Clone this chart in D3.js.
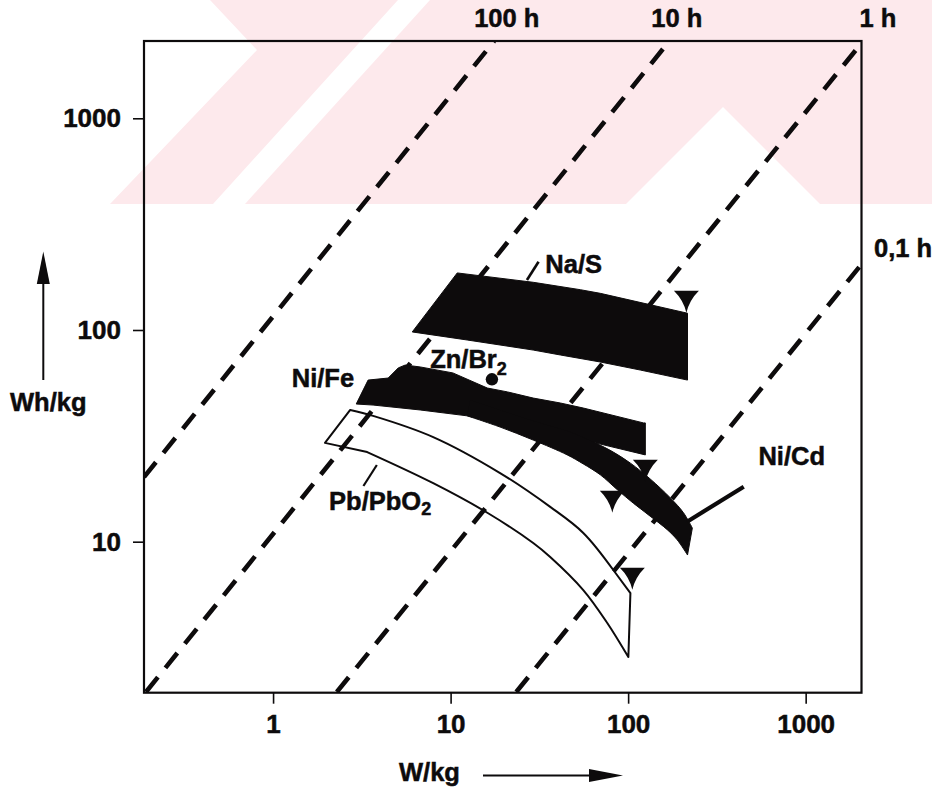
<!DOCTYPE html>
<html>
<head>
<meta charset="utf-8">
<script src="https://cdn.jsdelivr.net/npm/d3@7"></script>
<style>
  html, body { margin: 0; padding: 0; background: #ffffff; }
  svg { display: block; font-family: "Liberation Sans", Arial, Helvetica, sans-serif; font-weight: bold; }
</style>
</head>
<body>
<svg id="chart" width="932" height="789"></svg>
<script>
// Ragone diagram: specific energy (Wh/kg) against specific power (W/kg)
// for several traction battery systems, with constant discharge-time lines.

// ---- axes ----
const xTicks = [1, 10, 100, 1000];
const xTickLabels = ["1", "10", "100", "1000"];
const yTicks = [10, 100, 1000];
const yTickLabels = ["10", "100", "1000"];
const xDomain = [0.1875, 2063];
const yDomain = [1.935, 2318];

// ---- constant discharge-time lines: end points [W/kg, Wh/kg] ----
const durationNames = ["100 h", "10 h", "1 h", "0,1 h"];
const line100h = [[0.1875, 20.2], [17.6, 2318]];
const line10h  = [[0.1924, 1.95], [170.7, 2318]];
const line1h   = [[2.286, 1.95], [2064, 2268]];
const line01h  = [[23.43, 1.95], [2090, 207.2]];

// ---- battery regions [W/kg, Wh/kg] ----
const naS = [
  [10.9, 186], [29.2, 168], [53.8, 155], [69.7, 149], [216, 120],
  [216, 58.0], [117, 64.7], [69.7, 70.6], [41.5, 76.2], [29.2, 80.4], [12.4, 89.7], [6.08, 97.9]
];
const niFe = [
  [2.94, 44.7], [3.43, 58.0], [4.45, 59.3], [5.07, 66.2], [5.55, 68.3], [6.74, 66.9],
  [10.3, 62.7], [16.1, 53.2], [20.9, 51.0], [29.2, 47.7], [41.5, 45.2], [55.9, 42.8], [122, 36.4],
  [125, 36.4], [125, 25.7],
  [65.3, 29.3], [41.5, 31.6], [19.0, 36.0], [12.4, 39.3], [6.74, 41.9], [3.66, 44.2]
];
// curved bands: upper edge left to right, lower edge right to left
const niCdTop = [
  [12.9, 46.7], [28.1, 37.6], [47.2, 33.0], [65.3, 29.3], [82.5, 26.5], [103, 23.5],
  [133, 19.8], [173, 16.1], [205, 13.7], [230, 11.6]
];
const niCdBottom = [
  [216, 8.65], [189, 10.2], [166, 11.4], [133, 13.2], [107, 15.2], [86.9, 17.6],
  [69.7, 20.7], [55.9, 23.3], [45.4, 25.7], [29.2, 30.2], [19.0, 34.8], [12.4, 39.3]
];
const pbTop = [
  [1.96, 29.3], [2.72, 41.9], [3.66, 39.3], [7.98, 31.2], [19.0, 21.1], [36.4, 14.6],
  [55.9, 11.0], [82.5, 7.35], [103, 5.72]
];
const pbBottom = [
  [100.3, 2.85], [76.3, 4.13], [55.9, 5.91], [36.4, 8.47], [29.2, 9.86], [16.1, 13.7],
  [7.98, 18.9], [3.39, 26.5], [1.96, 29.3]
];

// ---- single points ----
const znBr2 = [17.09, 58.5];
const markers = [[212.9, 141.6], [125.0, 22.53], [81.46, 16.09], [105.6, 6.96]];

// ---- label leaders [W/kg, Wh/kg] ----
const leaderNaS = [[26.92, 172.3], [31.30, 210.2]];
const leaderNiCd = [[214.8, 12.43], [447.9, 18.19]];
const leaderPb = [[3.228, 18.33], [3.842, 23.03]];

// ---- labels: text and anchor point [W/kg, Wh/kg] ----
const labelNaS = ["Na/S", [34.15, 185.9]];
const labelNiFe = ["Ni/Fe", [2.861, 53.8]];
const labelZnBr = ["Zn/Br", "2", [7.674, 66.15]];
const labelNiCd = ["Ni/Cd", [542, 23.03]];
const labelPb = ["Pb/PbO", "2", [2.069, 14.11]];
const xTitle = "W/kg";
const yTitle = "Wh/kg";

// ---------------------------------------------------------------
const svg = d3.select("#chart");
const ink = "#0d0b0c";
const fontSize = 25.5;

const x = d3.scaleLog().domain(xDomain).range([144, 861.5]);
const y = d3.scaleLog().domain(yDomain).range([692.7, 41]);
const px = d => [x(d[0]), y(d[1])];

// decorative pale band behind the upper part of the figure
const tint = "#fde9ec";
const backdrop = svg.append("g");
const bands = [
  [[110, 204], [257, 50], [210, 0], [398, 0], [213, 204]],
  [[245, 204], [430, 0], [932, 0], [932, 204]]
];
bands.forEach(p => backdrop.append("path").attr("d", "M" + p.join("L") + "Z").attr("fill", tint));
backdrop.append("path")
  .attr("d", "M" + [[723, 107], [820, 204], [626, 204]].join("L") + "Z")
  .attr("fill", "#ffffff");

// clip to the plotting frame
svg.append("defs").append("clipPath").attr("id", "frame")
  .append("rect")
  .attr("x", x.range()[0]).attr("y", y.range()[1])
  .attr("width", x.range()[1] - x.range()[0])
  .attr("height", y.range()[0] - y.range()[1]);

const plot = svg.append("g").attr("clip-path", "url(#frame)");
const line = d3.line().x(d => x(d[0])).y(d => y(d[1]));
const smooth = d3.line().x(d => x(d[0])).y(d => y(d[1])).curve(d3.curveCatmullRom.alpha(0.5));
const cont = pts => smooth(pts).replace(/^M/, "L");

// discharge-time lines
const durationLines = [line100h, line10h, line1h, line01h];
plot.selectAll("path.iso").data(durationLines).join("path")
  .attr("class", "iso")
  .attr("d", line)
  .attr("fill", "none")
  .attr("stroke", ink)
  .attr("stroke-width", 4.6)
  .attr("stroke-dasharray", "19,12");

// battery regions
const closed = d3.line().x(d => x(d[0])).y(d => y(d[1])).curve(d3.curveLinearClosed);
[naS, niFe].forEach(r => {
  plot.append("path").attr("d", closed(r)).attr("fill", ink).attr("stroke", ink).attr("stroke-width", 1);
});
plot.append("path")
  .attr("d", smooth(niCdTop) + cont(niCdBottom) + "Z")
  .attr("fill", ink).attr("stroke", ink).attr("stroke-width", 1);

// Pb/PbO2: open outline, curved upper and lower edges
const pbPath = "M" + px(pbTop[0]) + cont(pbTop.slice(1, 8)) + "L" + px(pbTop[8]) +
  "L" + px(pbBottom[0]) + cont(pbBottom.slice(0, 8)) + "L" + px(pbBottom[8]) + "Z";
plot.append("path").attr("d", pbPath)
  .attr("fill", "none").attr("stroke", ink).attr("stroke-width", 2).attr("stroke-linejoin", "round");

// end-of-range markers (down-pointing triangles)
plot.selectAll("path.mk").data(markers).join("path")
  .attr("class", "mk")
  .attr("d", d => {
    const [cx, cy] = px(d);
    return `M${cx - 12.5},${cy - 7.3} L${cx + 12.5},${cy - 7.3} Q${cx + 3},${cy + 2} ${cx},${cy + 14.7} Q${cx - 3},${cy + 2} ${cx - 12.5},${cy - 7.3} Z`;
  })
  .attr("fill", ink);

// Zn/Br2 point
plot.append("circle").attr("cx", x(znBr2[0])).attr("cy", y(znBr2[1])).attr("r", 6.2).attr("fill", ink);

// label leaders
[[leaderNaS, 2.6], [leaderNiCd, 4.2], [leaderPb, 2.2]].forEach(([l, w]) => {
  plot.append("path").attr("d", line(l)).attr("stroke", ink).attr("stroke-width", w).attr("fill", "none");
});

// text helper: heavy bold face
const txt = (sel, anchor) => sel.attr("font-size", fontSize).attr("fill", ink)
  .attr("stroke", ink).attr("stroke-width", 0.5)
  .attr("text-anchor", anchor || "start");

// region labels
txt(svg.append("text").attr("x", x(labelNaS[1][0])).attr("y", y(labelNaS[1][1])).text(labelNaS[0]));
txt(svg.append("text").attr("x", x(labelNiFe[1][0])).attr("y", y(labelNiFe[1][1])).text(labelNiFe[0]), "end");
txt(svg.append("text").attr("x", x(labelNiCd[1][0])).attr("y", y(labelNiCd[1][1])).text(labelNiCd[0]));
[labelZnBr, labelPb].forEach(([main, sub, pos], i) => {
  const t = txt(svg.append("text").attr("x", x(pos[0])).attr("y", y(pos[1])));
  t.append("tspan").text(main);
  t.append("tspan").attr("font-size", 18).attr("dy", i === 0 ? 7 : 5).text(sub);
});

// duration labels along the top and right of the frame
const topDx = [-20, -18, -2];
[line100h, line10h, line1h].forEach((l, i) => {
  txt(svg.append("text").attr("x", x(l[1][0]) + topDx[i]).attr("y", 27).attr("font-size", 24).text(durationNames[i]));
});
txt(svg.append("text").attr("x", x.range()[1] + 12.5).attr("y", y(line01h[1][1]) - 6).attr("font-size", 24).text(durationNames[3]));

// frame
svg.append("rect")
  .attr("x", x.range()[0]).attr("y", y.range()[1])
  .attr("width", x.range()[1] - x.range()[0])
  .attr("height", y.range()[0] - y.range()[1])
  .attr("fill", "none").attr("stroke", ink).attr("stroke-width", 2.2);

// axes
const xAxis = svg.append("g").attr("transform", `translate(0,${y.range()[0]})`)
  .call(d3.axisBottom(x).tickValues(xTicks).tickFormat((d, i) => xTickLabels[i]).tickSize(11).tickPadding(10.5));
const yAxis = svg.append("g").attr("transform", `translate(${x.range()[0]},0)`)
  .call(d3.axisLeft(y).tickValues(yTicks).tickFormat((d, i) => yTickLabels[i]).tickSize(11).tickPadding(12));
[xAxis, yAxis].forEach(a => {
  a.select(".domain").remove();
  a.selectAll(".tick line").attr("stroke", ink).attr("stroke-width", 1.6);
  a.selectAll(".tick text").attr("font-size", 26).attr("fill", ink)
    .attr("stroke", ink).attr("stroke-width", 0.5)
    .attr("font-family", "Liberation Sans, Arial, sans-serif").attr("font-weight", "bold");
});

// axis titles with arrows
txt(svg.append("text").attr("x", 399).attr("y", 781).text(xTitle));
svg.append("line").attr("x1", 483).attr("x2", 595).attr("y1", 775.5).attr("y2", 775.5).attr("stroke", ink).attr("stroke-width", 2);
svg.append("path").attr("d", "M589,769 L623,775.5 L589,782 Z").attr("fill", ink);

txt(svg.append("text").attr("x", 10).attr("y", 411).text(yTitle));
svg.append("line").attr("x1", 43.3).attr("x2", 43.3).attr("y1", 380).attr("y2", 278).attr("stroke", ink).attr("stroke-width", 2);
svg.append("path").attr("d", "M36.8,284 L43.3,251.5 L49.8,284 Z").attr("fill", ink);
</script>
</body>
</html>
